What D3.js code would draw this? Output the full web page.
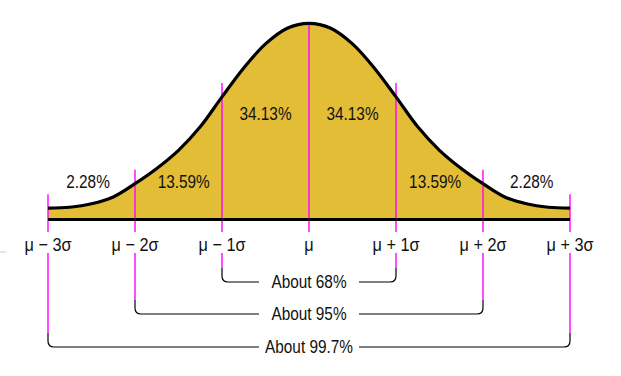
<!DOCTYPE html>
<html><head><meta charset="utf-8">
<script src="https://cdn.jsdelivr.net/npm/d3@7"></script>
<style>
html,body{margin:0;padding:0;background:#fff;}
text{font-family:"Liberation Sans",Arial,sans-serif;fill:#111;}
</style></head>
<body><svg id="c" width="621" height="376"></svg>
<script>
// z positions (in σ units) of curve samples and curve heights
const curveZ = [-3,-2.75,-2.5,-2.25,-2,-1.75,-1.5,-1.25,-1,-0.75,-0.5,-0.25,0,0.25,0.5,0.75,1,1.25,1.5,1.75,2,2.25,2.5,2.75,3];
const curveH = [0.023,0.025,0.032,0.046,0.073,0.104,0.141,0.189,0.250,0.309,0.358,0.390,0.400,0.390,0.358,0.309,0.250,0.189,0.141,0.104,0.073,0.046,0.032,0.025,0.023];
// tick positions and labels
const tickZ = [-3,-2,-1,0,1,2,3];
const tickLabels = ["\u03bc \u2212 3\u03c3","\u03bc \u2212 2\u03c3","\u03bc \u2212 1\u03c3","\u03bc","\u03bc + 1\u03c3","\u03bc + 2\u03c3","\u03bc + 3\u03c3"];
// region percentages
const regionLabels = ["2.28%","13.59%","34.13%","34.13%","13.59%","2.28%"];
const regionZ = [-2.54,-1.44,-0.5,0.5,1.45,2.56];
// brackets
const bracketSigma = [1,2,3];
const bracketLabels = ["About 68%","About 95%","About 99.7%"];

const svg = d3.select("#c");
const x = d3.scaleLinear().domain([-3,3]).range([48,570]);
const y = d3.scaleLinear().domain([0,0.4]).range([219.5,23.3]);
const pts = curveZ.map((z,i)=>[z,curveH[i]]);
const hAt = z => curveH[curveZ.indexOf(z)];

const gold = "#E3BD36", mag = "#FF00FF";
function label(sel, tx, ty, size, sx) {
  return sel.attr("transform", (d,i)=>`translate(${tx(d,i)},${ty(d,i)}) scale(${sx},1)`)
    .attr("text-anchor","middle").attr("font-size", size);
}

// filled area
svg.append("path").datum(pts)
  .attr("d", d3.area().x(d=>x(d[0])).y0(y(0)).y1(d=>y(d[1])).curve(d3.curveCatmullRom))
  .attr("fill", gold);

// magenta tick lines (upper part)
svg.selectAll(".tk").data(tickZ).join("line")
  .attr("x1", d=>x(d)).attr("x2", d=>x(d))
  .attr("y1", d=> d===0 ? y(hAt(d)) : y(hAt(d)) - 14)
  .attr("y2", 232)
  .attr("stroke", mag).attr("stroke-width", 1.4);

// curve outline
svg.append("path").datum(pts)
  .attr("d", d3.line().x(d=>x(d[0])).y(d=>y(d[1])).curve(d3.curveCatmullRom))
  .attr("fill","none").attr("stroke","#000").attr("stroke-width",3.2);

// baseline
svg.append("line").attr("x1",x(-3)).attr("x2",x(3)).attr("y1",y(0)).attr("y2",y(0))
  .attr("stroke","#000").attr("stroke-width",3);

// tick labels
label(svg.selectAll(".tl").data(tickZ).join("text"), d=>x(d), ()=>251, 18.5, 0.88)
  .text((d,i)=>tickLabels[i]);

// region labels
label(svg.selectAll(".rl").data(regionZ).join("text"), d=>x(d), d=> Math.abs(d)<1 ? 120 : 188.3, 18.5, 0.83)
  .text((d,i)=>regionLabels[i]);

// brackets
const by = [282, 314, 347];
bracketSigma.forEach((s,i)=>{
  const yy = by[i], r = 6, top = yy - 14, cx = x(0);
  [-1,1].forEach(side=>{
    const xe = x(side*s);
    svg.append("line").attr("x1",xe).attr("x2",xe).attr("y1",253).attr("y2",top)
      .attr("stroke",mag).attr("stroke-width",1.4);
    const p = d3.path();
    p.moveTo(xe, top);
    p.lineTo(xe, yy - r);
    p.quadraticCurveTo(xe, yy, xe - side*r, yy);
    p.lineTo(cx + side*50, yy);
    svg.append("path").attr("d", p.toString()).attr("fill","none")
      .attr("stroke","#000").attr("stroke-width",1.2);
  });
  label(svg.append("text").datum(0), ()=>cx, ()=>yy + 5.5, 18.5, 0.83).text(bracketLabels[i]);
});

// small grey mark at far left
svg.append("line").attr("x1",0).attr("x2",6).attr("y1",252).attr("y2",252)
  .attr("stroke","#ccc").attr("stroke-width",1);
</script></body></html>
